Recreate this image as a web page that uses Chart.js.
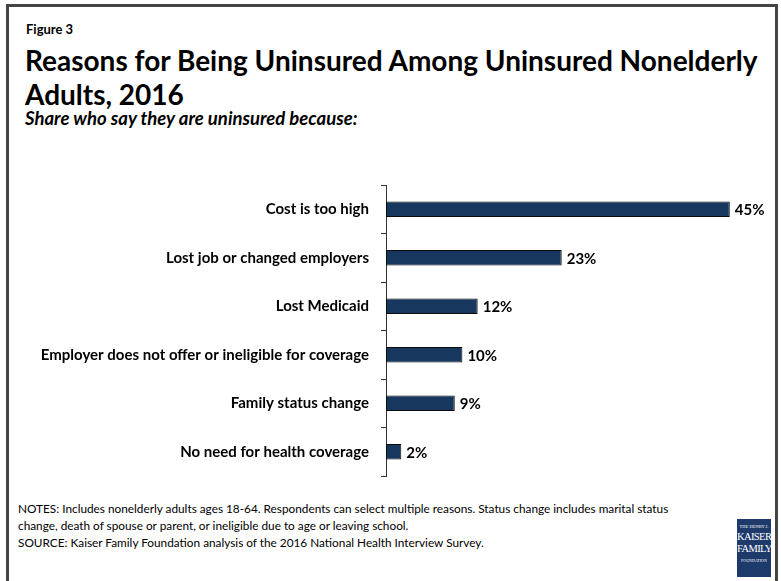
<!DOCTYPE html>
<html>
<head>
<meta charset="utf-8">
<script src="https://cdn.jsdelivr.net/npm/chart.js@4"></script>
<style>
  html, body { margin: 0; padding: 0; background: #fff; }
  #page { position: relative; width: 781px; height: 581px; overflow: hidden; font-family: Lato, "Open Sans", sans-serif; color: #000; }
  #frame { position: absolute; left: 6px; top: 4px; width: 766px; height: 600px; border: 3px solid #444; }
  #fig { position: absolute; left: 26px; top: 21px; font-size: 13px; line-height: 16px; font-weight: bold; }
  #title { position: absolute; left: 25px; top: 43px; width: 750px; font-size: 28px; font-weight: bold; line-height: 34px; white-space: nowrap; }
  #subtitle { position: absolute; left: 25px; top: 107px; font-size: 18.5px; line-height: 22px; font-weight: bold; font-style: italic; }
  #chartBox { position: absolute; left: 0; top: 175px; width: 781px; height: 311px; }
  #notes { position: absolute; left: 18px; top: 500px; font-size: 11.8px; line-height: 17px; width: 665px; }
  #logo {
    position: absolute; left: 737px; top: 519px; width: 34px; height: 58px; background: #1d3a6b;
    color: #fff; font-family: "Liberation Serif", serif; text-align: center; line-height: 1;
  }
  #logo .s { font-size: 4.5px; display: block; margin-top: 6px; }
  #logo .b { font-size: 10.5px; display: block; margin-top: 2px; letter-spacing: -0.6px; }
  #logo .f { font-size: 4px; display: block; margin-top: 4px; }
</style>
</head>
<body>
<div id="page">
  <div id="frame"></div>
  <div id="fig">Figure 3</div>
  <div id="title">Reasons for Being Uninsured Among Uninsured Nonelderly<br>Adults, 2016</div>
  <div id="subtitle">Share who say they are uninsured because:</div>
  <div id="chartBox"><canvas id="barChart"></canvas></div>
  <div id="notes">NOTES: Includes nonelderly adults ages 18-64. Respondents can select multiple reasons. Status change includes marital status change, death of spouse or parent, or ineligible due to age or leaving school.<br>SOURCE: Kaiser Family Foundation analysis of the 2016 National Health Interview Survey.</div>
  <div id="logo"><span class="s">THE HENRY J.</span><span class="b">KAISER</span><span class="b">FAMILY</span><span class="f">FOUNDATION</span></div>
</div>
<script>
// data
var reasons = ['Cost is too high', 'Lost job or changed employers', 'Lost Medicaid',
               'Employer does not offer or ineligible for coverage', 'Family status change',
               'No need for health coverage'];
var shares = [45, 23, 12, 10, 9, 2];

// value labels at the end of each bar
var valueLabels = {
  id: 'valueLabels',
  afterDatasetsDraw: function (chart) {
    var ctx = chart.ctx;
    var meta = chart.getDatasetMeta(0);
    ctx.save();
    ctx.font = 'bold 15px Lato, sans-serif';
    ctx.fillStyle = '#000';
    ctx.textAlign = 'left';
    ctx.textBaseline = 'middle';
    meta.data.forEach(function (bar, i) {
      ctx.fillText(shares[i] + '%', bar.x + 5, bar.y + 1);
    });
    ctx.restore();
  }
};

new Chart(document.getElementById('barChart'), {
  type: 'bar',
  data: {
    labels: reasons,
    datasets: [{
      data: shares,
      backgroundColor: '#17375e',
      borderColor: '#0a0a0a',
      borderWidth: 1,
      borderSkipped: false,
      categoryPercentage: 1,
      barPercentage: 0.32
    }]
  },
  options: {
    indexAxis: 'y',
    responsive: true,
    maintainAspectRatio: false,
    animation: false,
    layout: { padding: { top: 10, bottom: 10, left: 0, right: 13 } },
    scales: {
      x: { display: false, min: 0, max: 50 },
      y: {
        afterFit: function (axis) {
          axis.width = 386;
          axis.paddingTop = 0;
          axis.paddingBottom = 0;
        },
        border: { display: true, color: '#333', width: 1 },
        grid: { display: true, drawOnChartArea: false, tickLength: 5, color: '#333', offset: true },
        ticks: {
          color: '#000',
          padding: 12,
          font: { family: 'Lato, sans-serif', size: 15, weight: 'bold' }
        }
      }
    },
    plugins: {
      legend: { display: false },
      tooltip: { enabled: false }
    }
  },
  plugins: [valueLabels]
});
</script>
</body>
</html>
